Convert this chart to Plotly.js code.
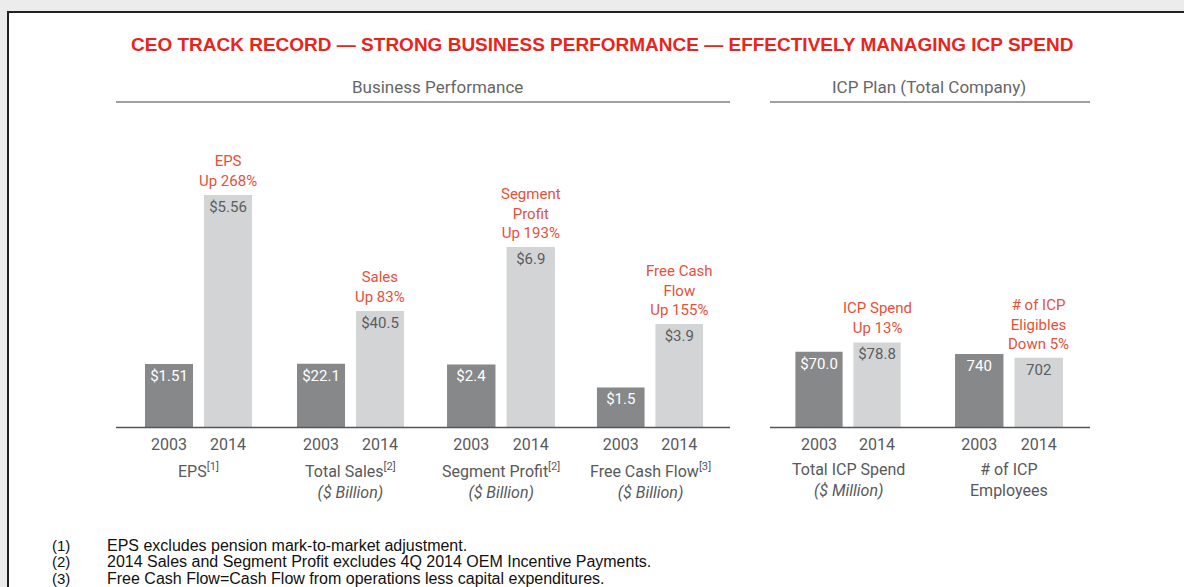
<!DOCTYPE html>
<html>
<head>
<meta charset="utf-8">
<script src="https://cdn.plot.ly/plotly-3.0.1.min.js"></script>
<style>
  html, body { margin: 0; padding: 0; background: #ececec; }
  #plot { width: 1184px; height: 587px; }
</style>
</head>
<body>
<div id="plot"></div>
<script>
// values
const years = ["2003", "2014"];
const epsVals = [1.51, 5.56];
const salesVals = [22.1, 40.5];
const segmentVals = [2.4, 6.9];
const fcfVals = [1.5, 3.9];
const icpSpendVals = [70.0, 78.8];
const icpEmpVals = [740, 702];

const callouts = [
    "EPS<br>Up 268%",
    "Sales<br>Up 83%",
    "Segment<br>Profit<br>Up 193%",
    "Free Cash<br>Flow<br>Up 155%",
    "ICP Spend<br>Up 13%",
    "# of ICP<br>Eligibles<br>Down 5%"
];
const groupLabels = [
    "EPS<sup>[1]</sup>",
    "Total Sales<sup>[2]</sup><br><i>($ Billion)</i>",
    "Segment Profit<sup>[2]</sup><br><i>($ Billion)</i>",
    "Free Cash Flow<sup>[3]</sup><br><i>($ Billion)</i>",
    "Total ICP Spend<br><i>($ Million)</i>",
    "# of ICP<br>Employees"
];
const footnotes = [
    ["(1)", "EPS excludes pension mark-to-market adjustment."],
    ["(2)", "2014 Sales and Segment Profit excludes 4Q 2014 OEM Incentive Payments."],
    ["(3)", "Free Cash Flow=Cash Flow from operations less capital expenditures."]
];

const W = 1184, H = 587;
const fx = x => x / W;
const fy = y => 1 - y / H;

// each pair has its own scale, like on the slide
const groups = [
    {vals: epsVals, fmt: "$%{y:.2f}", left: 139.5, right: 257.5, max: 6.64},
    {vals: salesVals, fmt: "$%{y:.1f}", left: 291.5, right: 409.5, max: 96.7},
    {vals: segmentVals, fmt: "$%{y:.1f}", left: 441.5, right: 560.5, max: 10.62},
    {vals: fcfVals, fmt: "$%{y:.1f}", left: 591.5, right: 708.5, max: 10.49},
    {vals: icpSpendVals, fmt: "$%{y:.1f}", left: 790, right: 906, max: 258},
    {vals: icpEmpVals, fmt: "%{y}", left: 949.5, right: 1068.5, max: 2808}
];

const dark = "#87888a";
const light = "#d3d4d5";
const red = "#e8503a";
const font = "Roboto, 'DejaVu Sans', sans-serif";
const arial = "'Liberation Sans', Arial, sans-serif";

let data = [];
let layout = {
    width: W,
    height: H,
    margin: {l: 0, r: 0, t: 0, b: 0},
    paper_bgcolor: "#ececec",
    plot_bgcolor: "rgba(0,0,0,0)",
    showlegend: false,
    bargap: 0.186,
    annotations: [],
    shapes: []
};

function note(x, y, text, f, extra) {
    layout.annotations.push(Object.assign({
        xref: "paper", yref: "paper", x: fx(x), y: fy(y),
        xanchor: "center", yanchor: "middle", showarrow: false,
        text: text, font: f
    }, extra || {}));
}

groups.forEach((g, i) => {
    const n = i + 1;
    const xa = n === 1 ? "x" : "x" + n;
    const ya = n === 1 ? "y" : "y" + n;
    data.push({
        type: "bar",
        x: years,
        y: g.vals,
        xaxis: xa,
        yaxis: ya,
        marker: {color: [dark, light]},
        texttemplate: g.fmt,
        textposition: "inside",
        insidetextanchor: "end",
        constraintext: "none",
        textangle: 0,
        textfont: {family: font, size: 15, color: ["#ffffff", "#5b5c5e"]},
        hoverinfo: "skip"
    });
    layout["xaxis" + (n === 1 ? "" : n)] = {
        domain: [fx(g.left), fx(g.right)],
        anchor: ya,
        type: "category",
        range: [-0.5, 1.5],
        autorange: false,
        showline: false,
        showgrid: false,
        zeroline: false,
        ticks: "",
        ticklabelstandoff: 6,
        tickfont: {family: font, size: 16, color: "#58595b"},
        fixedrange: true
    };
    layout["yaxis" + (n === 1 ? "" : n)] = {
        domain: [fy(427), fy(150)],
        anchor: xa,
        range: [0, g.max],
        autorange: false,
        visible: false,
        fixedrange: true
    };
    // red callout above the 2014 bar (category index 1)
    layout.annotations.push({
        xref: xa, yref: ya, x: years.indexOf("2014"), y: g.vals[1],
        xanchor: "center", yanchor: "bottom", yshift: 3, showarrow: false,
        text: callouts[i],
        font: {family: font, size: 15, color: red}
    });
    // group label under the years
    note((g.left + g.right) / 2, 458, groupLabels[i],
         {family: font, size: 16, color: "#58595b"}, {yanchor: "top"});
});

// title and section headers
note(602, 45, "<b>CEO TRACK RECORD — STRONG BUSINESS PERFORMANCE — EFFECTIVELY MANAGING ICP SPEND</b>",
     {family: arial, size: 19, color: "#e8251c"});
note(437, 87, "Business Performance", {family: font, size: 17, color: "#666666"});
note(929, 87, "ICP Plan (Total Company)", {family: font, size: 17, color: "#666666"});

// footnotes
footnotes.forEach((f, i) => {
    const y = 545 + i * 16.5;
    note(50, y, f[0], {family: arial, size: 15, color: "#111"}, {xanchor: "left"});
    note(105, y, f[1], {family: arial, size: 16, color: "#111"}, {xanchor: "left"});
});

// slide frame
layout.shapes.push({
    type: "rect", xref: "paper", yref: "paper", layer: "below",
    x0: fx(8), x1: 1.05, y0: -0.05, y1: fy(12),
    fillcolor: "#ffffff", line: {color: "#222", width: 2}
});
// header rules and baselines
[[116, 730], [770, 1090]].forEach(s => {
    layout.shapes.push({
        type: "line", xref: "paper", yref: "paper", layer: "below",
        x0: fx(s[0]), x1: fx(s[1]), y0: fy(102), y1: fy(102),
        line: {color: "#a0a0a0", width: 2}
    });
    layout.shapes.push({
        type: "line", xref: "paper", yref: "paper", layer: "above",
        x0: fx(s[0]), x1: fx(s[1]), y0: fy(427.5), y1: fy(427.5),
        line: {color: "#555", width: 1.5}
    });
});

Plotly.newPlot("plot", data, layout, {displayModeBar: false, staticPlot: true});
</script>
</body>
</html>
